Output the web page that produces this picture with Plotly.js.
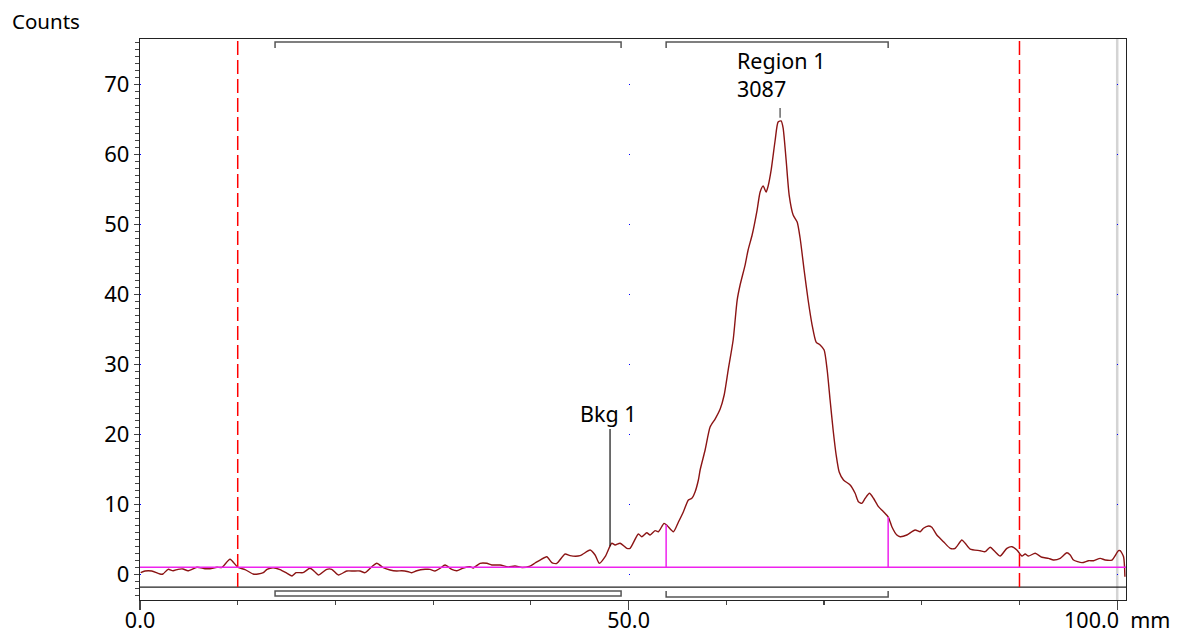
<!DOCTYPE html>
<html>
<head>
<meta charset="utf-8">
<script src="https://cdn.plot.ly/plotly-3.0.1.min.js"></script>
<style>
  html, body { margin: 0; padding: 0; background: #ffffff; }
  #chart { width: 1178px; height: 634px; }
</style>
</head>
<body>
<div id="chart"></div>
<script>
// ---- data ----
const positionMm = [0.07,0.51,1.2,2.05,2.35,2.87,3.38,3.89,4.4,4.91,5.83,6.65,7.16,7.88,8.39,9.21,10.03,10.75,11.57,12.08,12.62,13.0,13.61,14.33,15.05,15.56,15.97,16.68,17.4,17.91,18.25,19.11,19.62,20.3,21.16,21.83,22.52,23.03,23.72,24.23,24.9,25.59,26.27,26.79,27.46,27.81,28.32,29.17,29.68,30.19,30.71,31.22,31.9,32.42,33.09,33.78,34.11,34.8,35.49,36.0,36.85,37.67,38.38,39.1,39.92,40.43,40.94,41.63,42.14,42.65,43.5,44.01,45.04,46.06,46.57,47.01,47.6,48.28,48.62,49.13,49.82,50.15,51.0,51.35,51.86,52.2,52.71,53.05,53.63,53.94,54.59,55.1,55.61,56.12,56.47,56.81,57.14,57.32,57.83,58.34,58.85,59.37,59.78,60.19,60.7,61.11,61.41,61.92,62.23,62.64,63.15,63.46,63.77,64.07,64.28,64.59,65.0,65.3,65.61,65.81,66.12,66.43,66.84,67.25,67.55,67.96,68.37,68.78,69.19,69.6,70.01,70.32,70.62,70.93,71.24,71.55,71.99,72.67,73.18,73.52,73.87,74.21,74.65,75.06,75.57,76.08,76.59,76.94,77.45,77.79,78.47,79.32,79.84,80.17,80.69,81.03,81.54,82.22,82.91,83.42,84.1,84.44,84.95,85.98,86.49,87.0,87.51,88.02,88.71,89.22,89.73,90.25,90.58,90.92,91.61,92.3,92.97,93.48,94.17,94.85,95.19,95.53,96.39,97.06,97.58,98.26,98.77,99.46,100.13,100.31,100.65,100.79];
const counts = [0.26,0.5,0.5,0.07,0.07,0.74,0.54,0.74,0.79,0.54,1.03,0.83,0.83,1.03,1.03,2.17,1.0,0.71,0.07,0.07,0.26,0.74,0.97,0.71,0.17,-0.21,0.26,0.26,0.89,0.36,-0.07,0.74,0.74,-0.07,0.5,0.5,0.5,0.26,1.11,1.6,0.97,0.64,0.5,0.54,0.4,0.26,0.54,0.74,0.74,0.5,0.89,1.36,0.74,0.54,0.93,1.11,0.93,1.6,1.6,1.36,1.36,1.07,1.21,1.0,1.21,1.64,2.07,2.54,1.69,1.6,2.93,2.69,2.69,3.5,2.79,1.6,2.54,4.46,4.21,4.46,3.74,3.74,5.79,5.4,5.97,5.64,6.26,6.11,7.31,7.0,6.11,7.5,8.97,10.64,10.89,11.83,13.5,14.93,17.79,21.07,22.21,23.64,25.64,29.21,33.5,39.21,41.36,44.21,46.36,48.5,52.07,54.64,55.5,54.64,55.5,57.79,62.07,64.64,64.79,63.79,59.21,54.21,51.36,50.36,48.07,43.5,39.21,35.64,33.21,32.79,32.07,29.21,24.93,20.64,17.07,14.64,13.5,12.79,11.6,10.4,10.17,10.89,11.6,10.89,9.69,8.97,8.17,6.83,5.64,5.4,5.64,6.36,6.11,6.6,6.93,6.74,5.64,4.69,3.74,3.74,4.93,4.46,3.64,3.4,3.26,3.89,3.26,2.64,3.74,3.97,3.5,2.64,2.93,2.64,3.03,2.46,2.31,2.07,2.31,3.11,2.79,2.07,1.69,1.97,1.97,2.31,2.07,2.07,3.4,3.4,2.54,-0.31];

const yTickVals = [0,10,20,30,40,50,60,70];
const yTickText = ["0","10","20","30","40","50","60","70"];
const xTickVals = [0,50,100];
const xTickText = ["0.0","50.0","100.0&nbsp;&nbsp;mm"];

const bkgRange = [13.82, 49.23];       // Bkg 1 bracket
const regionRange = [53.84, 76.56];    // Region 1 bracket
const baselineLevel = 1.05;            // magenta background level
const markerLines = [10, 90];          // red dashed markers
const endLine = 100;                   // grey limit line
const regionLabel = ["Region 1", "3087"];
const regionLabelPos = [60.85, 65.5];  // text left x, leader x
const bkgLabel = "Bkg 1";
const bkgLabelPos = 48.1;

// ---- layout constants ----
const xMax = 100.9;
const yMin = -3.643, yMax = 76.5;
const stripTop = -1.79;
const brTop = 76.07, brTopTick = 75.21;
const brBotTop = -2.36, brBotLow = -3.07, brBotLine = -3.21;

function interp(x) {
  for (let i = 0; i < positionMm.length - 1; i++) {
    const a = positionMm[i], b = positionMm[i+1];
    if (x >= a && x <= b) {
      const t = (x - a) / (b - a);
      return counts[i] + t * (counts[i+1] - counts[i]);
    }
  }
  return counts[counts.length-1];
}

const bracketCol = '#555555';
const shapes = [];
// separator between plot and strip
shapes.push({type:'line', xref:'x', yref:'y', x0:0, x1:xMax, y0:stripTop, y1:stripTop, line:{color:'#222', width:1.2}, layer:'above'});
// grey limit line
shapes.push({type:'line', xref:'x', yref:'y', x0:endLine, x1:endLine, y0:yMin, y1:yMax, line:{color:'#d4d4d4', width:2.5}, layer:'below'});
// red dashed marker lines
markerLines.forEach(m => shapes.push({type:'line', xref:'x', yref:'y', x0:m, x1:m, y0:stripTop, y1:yMax, line:{color:'#ff0000', width:1.5, dash:'14px,5px'}, layer:'above'}));
// magenta baseline
shapes.push({type:'line', xref:'x', yref:'y', x0:0, x1:xMax, y0:baselineLevel, y1:baselineLevel, line:{color:'#ee22ee', width:1.5}});
// magenta region edges
regionRange.forEach(r => shapes.push({type:'line', xref:'x', yref:'y', x0:r, x1:r, y0:baselineLevel, y1:interp(r), line:{color:'#ee22ee', width:1.5}}));
// top brackets
[bkgRange, regionRange].forEach(rg => {
  shapes.push({type:'path', xref:'x', yref:'y',
    path:`M ${rg[0]},${brTopTick} L ${rg[0]},${brTop} L ${rg[1]},${brTop} L ${rg[1]},${brTopTick}`,
    line:{color:bracketCol, width:1.5}});
});
// bottom bkg box
shapes.push({type:'rect', xref:'x', yref:'y', x0:bkgRange[0], x1:bkgRange[1], y0:brBotLow, y1:brBotTop, line:{color:bracketCol, width:1.5}, fillcolor:'rgba(0,0,0,0)'});
// bottom region bracket
shapes.push({type:'path', xref:'x', yref:'y',
  path:`M ${regionRange[0]},${brBotTop} L ${regionRange[0]},${brBotLine} L ${regionRange[1]},${brBotLine} L ${regionRange[1]},${brBotTop}`,
  line:{color:bracketCol, width:1.5}});
// leader lines
const peakY = Math.max(...counts);
shapes.push({type:'line', xref:'x', yref:'y', x0:regionLabelPos[1], x1:regionLabelPos[1], y0:peakY+0.45, y1:peakY+1.85, line:{color:'#444', width:1.2}});
shapes.push({type:'line', xref:'x', yref:'y', x0:bkgLabelPos, x1:bkgLabelPos, y0:interp(bkgLabelPos)+0.1, y1:20.8, line:{color:'#111', width:1.2}});

const font = 'Noto Sans, DejaVu Sans, sans-serif';
const annotations = [
  {xref:'paper', yref:'paper', x:-0.1318, y:1.032, xanchor:'left', yanchor:'middle', text:'Counts', showarrow:false, font:{family:font, size:20.5, color:'#000'}},
  {xref:'x', yref:'y', x:regionLabelPos[0], y:71.36, xanchor:'left', yanchor:'middle', align:'left', text:regionLabel.join('<br>'), showarrow:false, font:{family:font, size:21.5, color:'#000'}},
  {xref:'x', yref:'y', x:bkgLabelPos - 0.2, y:22.93, xanchor:'center', yanchor:'middle', text:bkgLabel, showarrow:false, font:{family:font, size:21.5, color:'#000'}}
];

const trace = {
  x: positionMm, y: counts, type:'scatter', mode:'lines',
  line:{color:'#8b1414', width:1.4, shape:'spline', smoothing:0.6},
  hoverinfo:'skip'
};

const layout = {
  width:1178, height:634,
  margin:{l:140, r:52, t:39, b:34, pad:0},
  paper_bgcolor:'#ffffff', plot_bgcolor:'#ffffff',
  showlegend:false,
  font:{family:font, size:22, color:'#000'},
  xaxis:{
    range:[0, xMax], showgrid:false, zeroline:false,
    showline:true, linecolor:'#222', linewidth:1.2, mirror:true,
    ticks:'outside', tickvals:xTickVals, ticktext:xTickText, ticklen:9, tickcolor:'#444', tickwidth:1.2,
    ticklabelstandoff:-8,
    minor:{ticks:'outside', tick0:0, dtick:10, ticklen:4, tickcolor:'#444', tickwidth:1.2},
    tickfont:{family:font, size:21.5, color:'#000'}
  },
  yaxis:{
    range:[yMin, yMax], zeroline:false,
    showgrid:true, gridcolor:'#0000ff', gridwidth:1, griddash:'1px,487.5px',
    showline:true, linecolor:'#222', linewidth:1.2, mirror:true,
    ticks:'outside', tickvals:yTickVals, ticktext:yTickText, ticklen:5, tickcolor:'#444', tickwidth:1.2,
    minor:{ticks:'outside', tick0:0, dtick:1, ticklen:4, tickcolor:'#444', tickwidth:1, showgrid:false},
    tickfont:{family:font, size:22, color:'#000'}
  },
  shapes: shapes,
  annotations: annotations
};

Plotly.newPlot('chart', [trace], layout, {displayModeBar:false, staticPlot:true});
</script>
</body>
</html>
